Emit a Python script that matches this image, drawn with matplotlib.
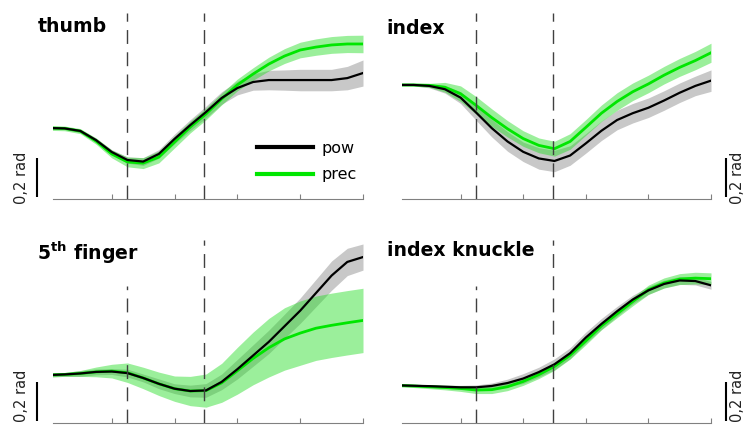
import matplotlib
matplotlib.use("Agg")
import matplotlib.pyplot as plt
from matplotlib.lines import Line2D

# time axis (arbitrary units, ticks at 0..4)
t = [-1.0, -0.75, -0.5, -0.25, 0.0, 0.25, 0.5, 0.75, 1.0, 1.25, 1.5,
     1.75, 2.0, 2.25, 2.5, 2.75, 3.0, 3.25, 3.5, 3.75, 4.0]
events = [0.25, 1.47]

# joint angle change (rad), mean and sem, power vs precision grip
thumb_pow = [0, -0.002, -0.015, -0.062, -0.123, -0.164, -0.172, -0.133, -0.056, 0.015, 0.082,
             0.154, 0.205, 0.236, 0.246, 0.246, 0.246, 0.246, 0.246, 0.256, 0.282]
thumb_pow_sem = [0.005, 0.006, 0.008, 0.01, 0.012, 0.016, 0.02, 0.022, 0.025, 0.028, 0.03,
                 0.032, 0.035, 0.042, 0.05, 0.052, 0.055, 0.055, 0.055, 0.06, 0.067]
thumb_prec = [0, -0.002, -0.016, -0.067, -0.133, -0.174, -0.18, -0.149, -0.072, 0.005, 0.072,
              0.149, 0.221, 0.277, 0.328, 0.369, 0.4, 0.415, 0.426, 0.431, 0.431]
thumb_prec_sem = [0.012, 0.012, 0.013, 0.016, 0.02, 0.025, 0.028, 0.03, 0.03, 0.03, 0.03,
                  0.03, 0.03, 0.032, 0.035, 0.038, 0.04, 0.042, 0.043, 0.044, 0.045]

index_pow = [0, 0, -0.005, -0.022, -0.065, -0.142, -0.222, -0.29, -0.343, -0.377, -0.39,
             -0.362, -0.3, -0.235, -0.18, -0.145, -0.117, -0.08, -0.04, -0.005, 0.022]
index_pow_sem = [0.005, 0.005, 0.01, 0.02, 0.03, 0.04, 0.045, 0.05, 0.05, 0.055, 0.055,
                 0.05, 0.05, 0.05, 0.05, 0.05, 0.05, 0.05, 0.05, 0.05, 0.055]
index_prec = [0, 0, -0.002, -0.012, -0.045, -0.105, -0.168, -0.225, -0.275, -0.31, -0.327,
              -0.29, -0.218, -0.145, -0.085, -0.035, 0.005, 0.05, 0.09, 0.125, 0.165]
index_prec_sem = [0.005, 0.006, 0.01, 0.025, 0.04, 0.045, 0.045, 0.042, 0.04, 0.038, 0.038,
                  0.04, 0.04, 0.042, 0.045, 0.045, 0.045, 0.045, 0.046, 0.047, 0.049]

fifth_pow = [0, 0.003, 0.008, 0.016, 0.018, 0.01, -0.015, -0.045, -0.07, -0.082, -0.079,
             -0.035, 0.03, 0.1, 0.17, 0.25, 0.33, 0.42, 0.51, 0.58, 0.605]
fifth_pow_sem = [0.01, 0.01, 0.015, 0.015, 0.015, 0.02, 0.02, 0.025, 0.025, 0.03, 0.035,
                 0.04, 0.05, 0.055, 0.06, 0.062, 0.065, 0.07, 0.075, 0.07, 0.067]
fifth_prec = [0, 0.003, 0.008, 0.016, 0.02, 0.012, -0.015, -0.045, -0.07, -0.082, -0.08,
              -0.04, 0.022, 0.085, 0.14, 0.185, 0.215, 0.24, 0.255, 0.268, 0.28]
fifth_prec_sem = [0.01, 0.01, 0.015, 0.025, 0.035, 0.05, 0.055, 0.06, 0.065, 0.075, 0.085,
                  0.1, 0.12, 0.135, 0.15, 0.16, 0.165, 0.165, 0.165, 0.165, 0.165]

knuckle_pow = [0, -0.002, -0.004, -0.007, -0.01, -0.01, -0.003, 0.012, 0.035, 0.068, 0.108,
               0.165, 0.245, 0.315, 0.38, 0.44, 0.487, 0.52, 0.538, 0.535, 0.513]
knuckle_pow_sem = [0.005, 0.005, 0.006, 0.008, 0.01, 0.012, 0.015, 0.02, 0.025, 0.025, 0.028,
                   0.028, 0.028, 0.028, 0.025, 0.022, 0.02, 0.02, 0.02, 0.02, 0.02]
knuckle_prec = [0, -0.003, -0.007, -0.011, -0.016, -0.024, -0.022, -0.007, 0.02, 0.055, 0.097,
                0.155, 0.228, 0.305, 0.367, 0.43, 0.49, 0.525, 0.545, 0.55, 0.547]
knuckle_prec_sem = [0.008, 0.008, 0.01, 0.012, 0.015, 0.018, 0.02, 0.02, 0.02, 0.02, 0.02,
                    0.02, 0.02, 0.02, 0.02, 0.022, 0.024, 0.026, 0.028, 0.03, 0.03]

PX_PER_RAD = 195.0
W, H = 747, 425

# name, data, axes box in pixels (left, top, right, bottom), ylim bottom,
# dashed line tops (axes fraction), title y, side of the scale bar
panels = [
    (r"thumb", (thumb_pow, thumb_pow_sem, thumb_prec, thumb_prec_sem),
     (53, 5, 363, 199), -0.364, (0.959, 0.959), 0.887, "left"),
    (r"index", (index_pow, index_pow_sem, index_prec, index_prec_sem),
     (402, 5, 711, 199), -0.585, (0.959, 0.959), 0.881, "right"),
    (r"$\mathbf{5^{th}}$ finger", (fifth_pow, fifth_pow_sem, fifth_prec, fifth_prec_sem),
     (53, 225, 363, 423), -0.246, (0.692, 0.924), 0.859, "left"),
    (r"index knuckle", (knuckle_pow, knuckle_pow_sem, knuckle_prec, knuckle_prec_sem),
     (402, 225, 711, 423), -0.193, (0.692, 0.924), 0.869, "right"),
]

GREEN = "#00e600"

fig = plt.figure(figsize=(W / 100, H / 100), dpi=100)

for name, (pw, pw_sem, pr, pr_sem), (l, tp, r, b), lo, dash_tops, ty, side in panels:
    ax = fig.add_axes([l / W, (H - b) / H, (r - l) / W, (b - tp) / H])
    lo_pw = [m - s for m, s in zip(pw, pw_sem)]
    hi_pw = [m + s for m, s in zip(pw, pw_sem)]
    lo_pr = [m - s for m, s in zip(pr, pr_sem)]
    hi_pr = [m + s for m, s in zip(pr, pr_sem)]
    ax.fill_between(t, lo_pw, hi_pw, color="#c8c8c8", lw=0, zorder=1)
    ax.fill_between(t, lo_pr, hi_pr, color="#22dd22", alpha=0.45, lw=0, zorder=2)
    ax.plot(t, pr, color=GREEN, lw=2.0, zorder=3)
    ax.plot(t, pw, color="black", lw=1.6, zorder=4)

    for ev, top in zip(events, dash_tops):
        ax.axvline(ev, ymin=0, ymax=top, color="#404040", lw=1.0,
                   dashes=(10, 6), zorder=5)

    ax.set_xlim(-0.935, 4.0)
    ax.set_ylim(lo, lo + (b - tp) / PX_PER_RAD)
    ax.set_xticks([0, 1, 2, 3, 4])
    ax.set_yticks([])
    ax.tick_params(axis="x", direction="in", length=3.5, color="#808080",
                   labelbottom=False)
    for s in ("top", "left", "right"):
        ax.spines[s].set_visible(False)
    ax.spines["bottom"].set_color("#808080")
    ax.patch.set_visible(False)

    ax.text(-0.05, ty, name, transform=ax.transAxes, fontsize=13.6,
            fontweight="bold", va="center", ha="left")

    # 0.2 rad scale bar
    if side == "left":
        xbar, xlab = -1.195, -1.43
    else:
        xbar, xlab = 4.24, 4.43
    ax.plot([xbar, xbar], [lo + 0.01, lo + 0.21], color="black", lw=1.5,
            clip_on=False, solid_capstyle="butt")
    ylab = lo + 0.11 if b < 300 else lo + 0.137
    ax.text(xlab, ylab, "0,2 rad", rotation=90, va="center", ha="center",
            fontsize=10.5, color="#222222", clip_on=False)

    if name == "thumb":
        handles = [Line2D([], [], color="black", lw=3),
                   Line2D([], [], color=GREEN, lw=3)]
        ax.legend(handles, ["pow", "prec"], loc="upper left",
                  bbox_to_anchor=(0.658, 0.30), frameon=False, fontsize=11.5,
                  handlelength=3.5, handletextpad=0.55, labelspacing=0.72,
                  borderpad=0, borderaxespad=0)

fig.savefig("out.png", dpi=100)
